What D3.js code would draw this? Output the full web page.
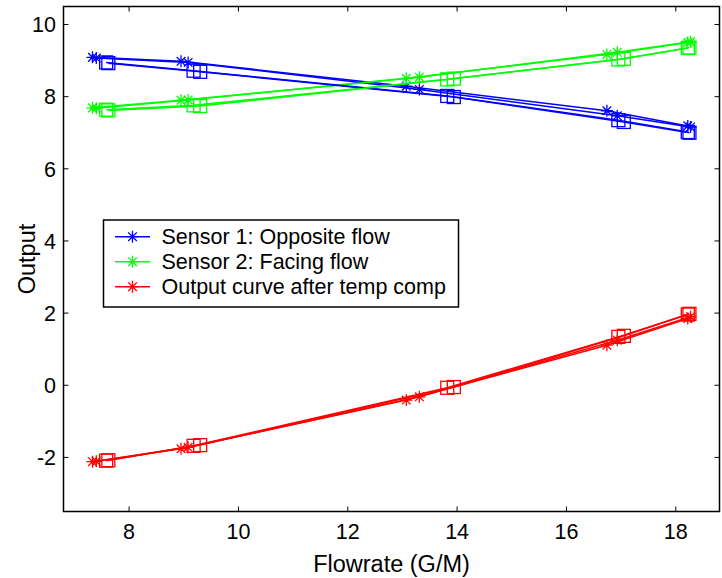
<!DOCTYPE html>
<html>
<head>
<meta charset="utf-8">
<script src="https://cdn.jsdelivr.net/npm/d3@7"></script>
<style>
  html, body { margin: 0; padding: 0; background: #fff; }
  svg { display: block; font-family: "Liberation Sans", Arial, sans-serif; }
</style>
</head>
<body>
<svg id="chart" width="722" height="578"></svg>
<script>
// ---- data ----
const xTicks = [8, 10, 12, 14, 16, 18];
const yTicks = [-2, 0, 2, 4, 6, 8, 10];

// flow rates of the four measurement runs (two marked with *, two with squares)
const flowStarA = [7.33, 8.95, 13.07, 16.74, 18.22];
const flowStarB = [7.40, 9.08, 13.31, 16.93, 18.27];
const flowSqA   = [7.58, 9.18, 13.82, 16.95, 18.22];
const flowSqB   = [7.62, 9.30, 13.94, 17.05, 18.25];

// Sensor 1: Opposite flow
const s1StarA = [9.09, 8.98, 8.29, 7.61, 7.19];
const s1StarB = [9.07, 8.95, 8.20, 7.47, 7.16];
const s1SqA   = [8.95, 8.72, 8.02, 7.35, 7.02];
const s1SqB   = [8.93, 8.69, 7.99, 7.30, 7.00];

// Sensor 2: Facing flow
const s2StarA = [7.69, 7.90, 8.51, 9.17, 9.50];
const s2StarB = [7.68, 7.91, 8.54, 9.23, 9.52];
const s2SqA   = [7.64, 7.76, 8.48, 9.03, 9.35];
const s2SqB   = [7.62, 7.74, 8.50, 9.05, 9.36];

// Output curve after temp comp
const outStarA = [-2.12, -1.76, -0.41, 1.11, 1.85];
const outStarB = [-2.11, -1.72, -0.32, 1.25, 1.90];
const outSqA   = [-2.09, -1.68, -0.07, 1.34, 1.96];
const outSqB   = [-2.08, -1.66, -0.05, 1.37, 1.98];

const legendLabels = ["Sensor 1: Opposite flow", "Sensor 2: Facing flow", "Output curve after temp comp"];
const colors = ["#0000ff", "#00ff00", "#ff0000"];

// ---- layout ----
const svg = d3.select("#chart");
const x = d3.scaleLinear().domain([6.8, 18.8]).range([63.5, 719.5]);
const y = d3.scaleLinear().domain([-3.5, 10.5]).range([511.5, 6.5]);

const tickFont = 21.5, labelFont = 23.5;

// series definitions built from arrays
const series = [
  { c: 0, m: "star", xs: flowStarA, ys: s1StarA },
  { c: 1, m: "star", xs: flowStarA, ys: s2StarA },
  { c: 2, m: "star", xs: flowStarA, ys: outStarA },
  { c: 0, m: "star", xs: flowStarB, ys: s1StarB },
  { c: 1, m: "star", xs: flowStarB, ys: s2StarB },
  { c: 2, m: "star", xs: flowStarB, ys: outStarB },
  { c: 0, m: "sq", xs: flowSqA, ys: s1SqA },
  { c: 1, m: "sq", xs: flowSqA, ys: s2SqA },
  { c: 2, m: "sq", xs: flowSqA, ys: outSqA },
  { c: 0, m: "sq", xs: flowSqB, ys: s1SqB },
  { c: 1, m: "sq", xs: flowSqB, ys: s2SqB },
  { c: 2, m: "sq", xs: flowSqB, ys: outSqB }
];

const line = d3.line().x(d => x(d[0])).y(d => y(d[1]));
const starR = 6, sqHalf = 6.5;
const starPath = (cx, cy) => {
  const r = starR, d = r * 0.72;
  return `M${cx - r},${cy}L${cx + r},${cy}M${cx},${cy - r}L${cx},${cy + r}` +
         `M${cx - d},${cy - d}L${cx + d},${cy + d}M${cx - d},${cy + d}L${cx + d},${cy - d}`;
};

const plot = svg.append("g");
series.forEach(s => {
  const pts = s.xs.map((v, i) => [v, s.ys[i]]);
  const col = colors[s.c];
  plot.append("path").attr("d", line(pts)).attr("fill", "none")
    .attr("stroke", col).attr("stroke-width", 1.5);
  if (s.m === "star") {
    plot.selectAll(null).data(pts).enter().append("path")
      .attr("d", d => starPath(x(d[0]), y(d[1])))
      .attr("stroke", col).attr("stroke-width", 1.3).attr("fill", "none");
  } else {
    plot.selectAll(null).data(pts).enter().append("rect")
      .attr("x", d => x(d[0]) - sqHalf).attr("y", d => y(d[1]) - sqHalf)
      .attr("width", 2 * sqHalf).attr("height", 2 * sqHalf)
      .attr("stroke", col).attr("stroke-width", 1.3).attr("fill", "none");
  }
});

// ---- axes (MATLAB style: boxed, inward ticks) ----
const [x0, x1] = x.range();
const [yb, yt] = y.range();
const axisG = svg.append("g").attr("stroke", "#000").attr("stroke-width", 1.5);
axisG.append("rect").attr("x", x0).attr("y", yt).attr("width", x1 - x0).attr("height", yb - yt)
  .attr("fill", "none");
const tl = 5;
xTicks.forEach(t => {
  axisG.append("line").attr("x1", x(t)).attr("x2", x(t)).attr("y1", yb).attr("y2", yb - tl).attr("stroke-width", 1);
  axisG.append("line").attr("x1", x(t)).attr("x2", x(t)).attr("y1", yt).attr("y2", yt + tl).attr("stroke-width", 1);
});
yTicks.forEach(t => {
  axisG.append("line").attr("x1", x0).attr("x2", x0 + tl).attr("y1", y(t)).attr("y2", y(t)).attr("stroke-width", 1);
  axisG.append("line").attr("x1", x1).attr("x2", x1 - tl).attr("y1", y(t)).attr("y2", y(t)).attr("stroke-width", 1);
});

svg.append("g").selectAll("text").data(xTicks).enter().append("text")
  .attr("x", d => x(d)).attr("y", 538.5).attr("text-anchor", "middle")
  .attr("font-size", tickFont).attr("fill", "#000").text(d => d);
svg.append("g").selectAll("text").data(yTicks).enter().append("text")
  .attr("x", 56).attr("y", d => y(d) + 7.7).attr("text-anchor", "end")
  .attr("font-size", tickFont).attr("fill", "#000").text(d => d);

svg.append("text").attr("x", (x0 + x1) / 2).attr("y", 571.5).attr("text-anchor", "middle")
  .attr("font-size", labelFont).attr("fill", "#000").text("Flowrate (G/M)");
svg.append("text").attr("transform", `translate(35,${(yb + yt) / 2}) rotate(-90)`)
  .attr("text-anchor", "middle").attr("font-size", labelFont).attr("fill", "#000").text("Output");

// ---- legend ----
const lg = svg.append("g");
lg.append("rect").attr("x", 103.5).attr("y", 220).attr("width", 355).attr("height", 87)
  .attr("fill", "#fff").attr("stroke", "#000").attr("stroke-width", 1.5);
legendLabels.forEach((lab, i) => {
  const cy = 236.7 + i * 25;
  lg.append("line").attr("x1", 115).attr("x2", 150).attr("y1", cy).attr("y2", cy)
    .attr("stroke", colors[i]).attr("stroke-width", 1.5);
  lg.append("path").attr("d", starPath(132.5, cy)).attr("stroke", colors[i])
    .attr("stroke-width", 1.3).attr("fill", "none");
  lg.append("text").attr("x", 161.5).attr("y", cy + 7.6).attr("font-size", tickFont)
    .attr("fill", "#000").text(lab);
});
</script>
</body>
</html>
